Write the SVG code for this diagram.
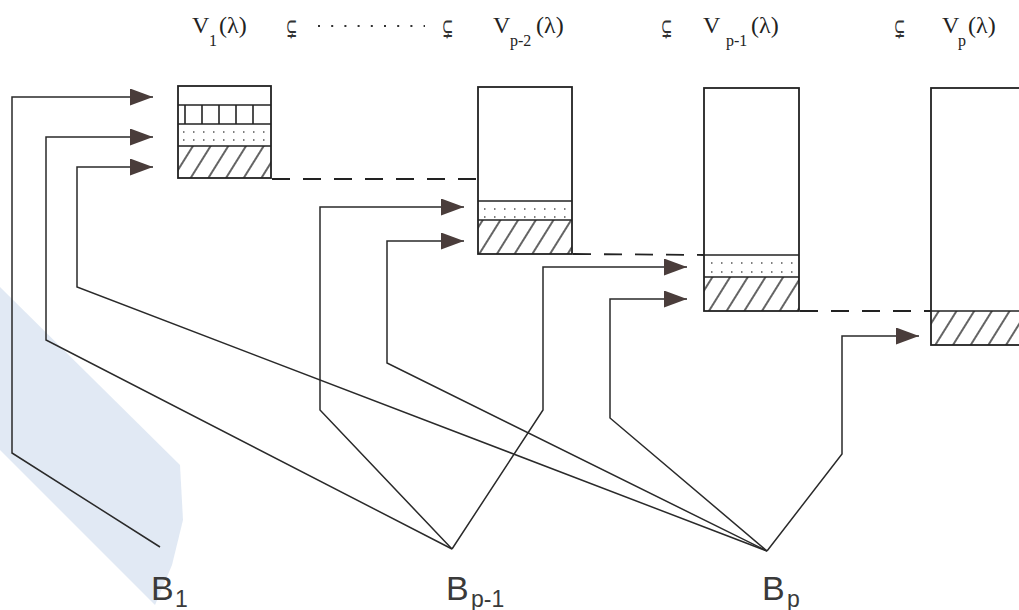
<svg xmlns="http://www.w3.org/2000/svg" width="1019" height="610" viewBox="0 0 1019 610">
<style>
.box{fill:none;stroke:#222;stroke-width:1.8}
.sep{stroke:#222;stroke-width:1.6}
.dots{stroke:#555;stroke-width:1.5;stroke-dasharray:1.5 8.5}
.dash{fill:none;stroke:#222;stroke-width:1.8;stroke-dasharray:18 13}
.conn{fill:none;stroke:#2a2a2a;stroke-width:1.5;marker-end:url(#arr)}
.hd{font-family:"Liberation Serif","DejaVu Serif",serif;font-size:24px;fill:#222}
.hs{font-family:"Liberation Serif","DejaVu Serif",serif;font-size:16px;fill:#222}
.sym{font-family:"DejaVu Serif","Liberation Serif",serif;font-size:27px;fill:#333}
.bl{font-family:"Liberation Sans",Arial,sans-serif;font-size:34px;fill:#3a3a3a}
.bs{font-family:"Liberation Sans",Arial,sans-serif;font-size:23px;fill:#3a3a3a}
</style>
<defs>
<pattern id="hatch" width="15" height="15" patternUnits="userSpaceOnUse" patternTransform="rotate(32)">
<line x1="1" y1="0" x2="1" y2="15" stroke="#222" stroke-width="1.4"/>
</pattern>
<marker id="arr" markerUnits="userSpaceOnUse" markerWidth="24" markerHeight="18" refX="23" refY="8.5" orient="auto">
<path d="M0,0 L23,8.5 L0,17 z" fill="#4a3d3b"/>
</marker>
</defs>
<rect width="1019" height="610" fill="#fff"/>
<polygon points="0,287 180,465 183,520 172,565 155,605 0,450" fill="#dce5f2" opacity="0.85"/>

<g id="headings">
<text class="hd" x="192" y="33">V</text><text class="hs" x="209" y="46">1</text><text class="hd" x="219" y="33">(λ)</text>
<text class="sym" transform="translate(286,37) scale(0.5,1)">⊊</text>
<line x1="318" y1="26" x2="425" y2="26" stroke="#333" stroke-width="2.2" stroke-dasharray="2 11.2"/>
<text class="sym" transform="translate(442,37) scale(0.5,1)">⊊</text>
<text class="hd" x="493" y="33">V</text><text class="hs" x="510" y="46">p-2</text><text class="hd" x="536" y="33">(λ)</text>
<text class="sym" transform="translate(661,37) scale(0.5,1)">⊊</text>
<text class="hd" x="703" y="33">V</text><text class="hs" x="726" y="46">p-1</text><text class="hd" x="751" y="33">(λ)</text>
<text class="sym" transform="translate(894,37) scale(0.5,1)">⊊</text>
<text class="hd" x="942" y="33">V</text><text class="hs" x="958" y="46">p</text><text class="hd" x="968" y="33">(λ)</text>
</g>

<g id="box1">
<rect x="178" y="146" width="93" height="32" fill="url(#hatch)"/>
<line class="dots" x1="183" y1="132" x2="271" y2="132"/>
<line class="dots" x1="183" y1="140" x2="271" y2="140"/>
<line class="sep" x1="178" y1="105" x2="271" y2="105"/>
<line class="sep" x1="178" y1="124" x2="271" y2="124"/>
<line class="sep" x1="178" y1="146" x2="271" y2="146"/>
<line class="sep" x1="185" y1="105" x2="185" y2="124"/>
<line class="sep" x1="202" y1="105" x2="202" y2="124"/>
<line class="sep" x1="219" y1="105" x2="219" y2="124"/>
<line class="sep" x1="236" y1="105" x2="236" y2="124"/>
<line class="sep" x1="253" y1="105" x2="253" y2="124"/>
<rect class="box" x="178" y="86" width="93" height="92"/>
</g>

<g id="box2">
<rect x="478" y="220" width="94" height="34" fill="url(#hatch)"/>
<line class="dots" x1="484" y1="209" x2="572" y2="209"/>
<line class="dots" x1="484" y1="217" x2="572" y2="217"/>
<line class="sep" x1="478" y1="201" x2="572" y2="201"/>
<line class="sep" x1="478" y1="220" x2="572" y2="220"/>
<rect class="box" x="478" y="87" width="94" height="167"/>
</g>

<g id="box3">
<rect x="704" y="277" width="95" height="34" fill="url(#hatch)"/>
<line class="dots" x1="711" y1="263" x2="799" y2="263"/>
<line class="dots" x1="711" y1="272" x2="799" y2="272"/>
<line class="sep" x1="704" y1="255" x2="799" y2="255"/>
<line class="sep" x1="704" y1="277" x2="799" y2="277"/>
<rect class="box" x="704" y="88" width="95" height="223"/>
</g>

<g id="box4">
<rect x="931" y="311" width="100" height="34" fill="url(#hatch)"/>
<line class="sep" x1="931" y1="311" x2="1030" y2="311"/>
<rect class="box" x="931" y="88" width="100" height="257"/>
</g>

<g id="connectors">
<line class="dash" x1="272" y1="179" x2="478" y2="179"/>
<line class="dash" x1="573" y1="254" x2="704" y2="255"/>
<line class="dash" x1="800" y1="311" x2="931" y2="311"/>
<path class="conn" d="M160,547 L12,453 L12,97 L153,97"/>
<path class="conn" d="M452,549 L46,340 L46,137 L153,137"/>
<path class="conn" d="M767,551 L77,287 L77,167 L153,167"/>
<path class="conn" d="M452,549 L320,410 L320,207 L464,207"/>
<path class="conn" d="M767,551 L387,363 L387,241 L464,241"/>
<path class="conn" d="M452,549 L543,410 L543,267 L687,267"/>
<path class="conn" d="M767,551 L610,418 L610,299 L687,299"/>
<path class="conn" d="M767,551 L842,454 L842,336 L919,336"/>
</g>

<g id="B1"><text class="bl" x="151" y="600">B</text><text class="bs" x="175" y="607">1</text></g>
<g id="Bp-1"><text class="bl" x="446" y="600">B</text><text class="bs" x="471" y="607">p-1</text></g>
<g id="Bp"><text class="bl" x="762" y="600">B</text><text class="bs" x="787" y="607">p</text></g>
</svg>
